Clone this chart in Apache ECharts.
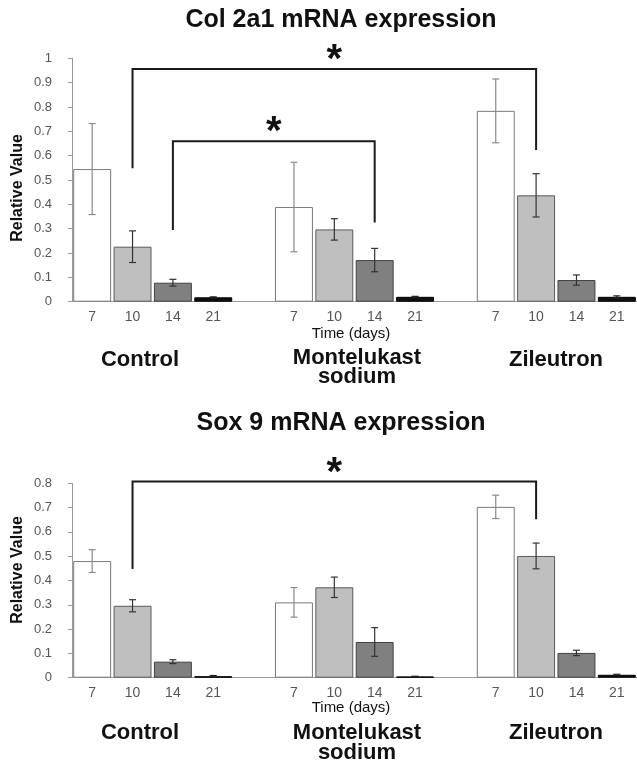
<!DOCTYPE html>
<html>
<head>
<meta charset="utf-8">
<script src="https://cdn.jsdelivr.net/npm/echarts@6/dist/echarts.min.js"></script>
<style>
html,body{margin:0;padding:0;background:#fff;}
#chart{width:637px;height:766px;}
</style>
</head>
<body>
<div id="chart"></div>
<script>
// ---- data ----
const categories = ['7','10','14','21','','7','10','14','21','','7','10','14','21'];
const days = ['7','10','14','21'];
const groupNames = ['Control', 'Montelukast\nsodium', 'Zileutron'];

// Col 2a1 mRNA expression (relative value, mean and error)
const colControl = [0.545, 0.226, 0.078, 0.018];
const colMontelukast = [0.389, 0.297, 0.171, 0.020];
const colZileutron = [0.784, 0.437, 0.089, 0.020];
const colControlErr = [0.187, 0.065, 0.014, 0.002];
const colMontelukastErr = [0.184, 0.044, 0.048, 0.002];
const colZileutronErr = [0.131, 0.089, 0.021, 0.004];

// Sox 9 mRNA expression
const soxControl = [0.480, 0.296, 0.066, 0.006];
const soxMontelukast = [0.310, 0.372, 0.147, 0.005];
const soxZileutron = [0.703, 0.501, 0.102, 0.012];
const soxControlErr = [0.047, 0.025, 0.008, 0.003];
const soxMontelukastErr = [0.061, 0.042, 0.059, 0.001];
const soxZileutronErr = [0.048, 0.053, 0.011, 0.002];

// significance brackets: [fromCategoryIndex, toCategoryIndex, height, leftEnd, rightEnd]
const colBrackets = [[1, 11, 0.956, 0.548, 0.623], [2, 7, 0.659, 0.295, 0.325]];
const soxBrackets = [[1, 11, 0.807, 0.447, 0.652]];

const colTicksMax = 1.0;
const soxTicksMax = 0.8;

// ---- styles ----
const dayFill = ['#ffffff', '#bfbfbf', '#808080', '#111111'];
const dayBorder = ['#7a7a7a', '#5a5a5a', '#404040', '#000000'];
const dayErr = ['#8a8a8a', '#333333', '#333333', '#222222'];
const FONT = 'Liberation Sans, Arial, sans-serif';

function buildBars(groupsVals) {
  const out = [];
  groupsVals.forEach((vals, g) => {
    vals.forEach((v, d) => {
      out.push({
        value: [g * 5 + d, v],
        itemStyle: { color: dayFill[d], borderColor: dayBorder[d], borderWidth: 1 }
      });
    });
  });
  return out;
}
function buildErr(groupsVals, groupsErr) {
  const out = [];
  groupsVals.forEach((vals, g) => {
    vals.forEach((v, d) => {
      out.push([g * 5 + d, v, groupsErr[g][d], d]);
    });
  });
  return out;
}

function errRender(params, api) {
  const x = api.value(0), v = api.value(1), e = api.value(2), d = api.value(3);
  const top = api.coord([x, v + e]);
  const bot = api.coord([x, v - e]);
  const c = dayErr[d];
  const hw = 3.5;
  const st = { stroke: c, lineWidth: 1.2 };
  return {
    type: 'group',
    children: [
      { type: 'line', shape: { x1: top[0], y1: top[1], x2: bot[0], y2: bot[1] }, style: st },
      { type: 'line', shape: { x1: top[0] - hw, y1: top[1], x2: top[0] + hw, y2: top[1] }, style: st },
      { type: 'line', shape: { x1: bot[0] - hw, y1: bot[1], x2: bot[0] + hw, y2: bot[1] }, style: st }
    ]
  };
}

function bracketRender(params, api) {
  const a = api.value(0), b = api.value(1), h = api.value(2), l = api.value(3), r = api.value(4);
  const p1 = api.coord([a, l]);
  const p2 = api.coord([a, h]);
  const p3 = api.coord([b, h]);
  const p4 = api.coord([b, r]);
  return {
    type: 'group',
    children: [
      { type: 'polyline', shape: { points: [p1, p2, p3, p4] },
        style: { stroke: '#1a1a1a', lineWidth: 2, fill: null } },
      { type: 'text', x: (p2[0] + p3[0]) / 2, y: p2[1] - 8,
        style: { text: '*', fontSize: 40, fontWeight: 'bold', fontFamily: FONT,
                 fill: '#111', align: 'center', verticalAlign: 'middle' } }
    ]
  };
}

const grids = [
  { left: 72, top: 58.3, right: -6, height: 243.4 },
  { left: 72, top: 483.3, right: -6, height: 194.4 }
];

function xAx(i) {
  return {
    type: 'category', gridIndex: i, data: categories,
    axisLine: { lineStyle: { color: '#9a9a9a', width: 1 } },
    axisTick: { show: false },
    axisLabel: { interval: 0, fontSize: 14, color: '#555', fontFamily: FONT, margin: 8 },
    splitLine: { show: false }
  };
}
function yAx(i, max) {
  return {
    type: 'value', gridIndex: i, min: 0, max: max, interval: 0.1,
    axisLine: { show: true, lineStyle: { color: '#9a9a9a', width: 1 } },
    axisTick: { show: true, length: 4, lineStyle: { color: '#9a9a9a' } },
    axisLabel: { fontSize: 13, color: '#555', fontFamily: FONT, margin: 20 },
    splitLine: { show: false }
  };
}

function txt(text, x, y, size, weight, extra) {
  return Object.assign({
    type: 'text', x: x, y: y,
    style: { text: text, fontSize: size, fontWeight: weight, fontFamily: FONT,
             fill: '#111', align: 'center', verticalAlign: 'middle' }
  }, extra || {});
}

const groupX = [140, 357, 556];

const option = {
  animation: false,
  backgroundColor: '#fff',
  grid: grids,
  xAxis: [xAx(0), xAx(1)],
  yAxis: [yAx(0, colTicksMax), yAx(1, soxTicksMax)],
  series: [
    { type: 'bar', xAxisIndex: 0, yAxisIndex: 0, barWidth: '94%',
      data: buildBars([colControl, colMontelukast, colZileutron]) },
    { type: 'custom', xAxisIndex: 0, yAxisIndex: 0, renderItem: errRender, z: 5,
      data: buildErr([colControl, colMontelukast, colZileutron],
                     [colControlErr, colMontelukastErr, colZileutronErr]) },
    { type: 'custom', xAxisIndex: 0, yAxisIndex: 0, renderItem: bracketRender, z: 6,
      data: colBrackets },
    { type: 'bar', xAxisIndex: 1, yAxisIndex: 1, barWidth: '94%',
      data: buildBars([soxControl, soxMontelukast, soxZileutron]) },
    { type: 'custom', xAxisIndex: 1, yAxisIndex: 1, renderItem: errRender, z: 5,
      data: buildErr([soxControl, soxMontelukast, soxZileutron],
                     [soxControlErr, soxMontelukastErr, soxZileutronErr]) },
    { type: 'custom', xAxisIndex: 1, yAxisIndex: 1, renderItem: bracketRender, z: 6,
      data: soxBrackets }
  ],
  graphic: [
    txt('Col 2a1 mRNA expression', 341, 20, 25, 'bold'),
    txt('Sox 9 mRNA expression', 341, 423, 25, 'bold'),
    txt('Relative Value', 18, 188, 16, 'bold', { rotation: Math.PI / 2 }),
    txt('Relative Value', 18, 570, 16, 'bold', { rotation: Math.PI / 2 }),
    txt('Time (days)', 351, 334, 15, 'normal'),
    txt('Time (days)', 351, 708, 15, 'normal'),
    txt(groupNames[0], groupX[0], 360, 22, 'bold'),
    txt(groupNames[1], groupX[1], 367.5, 22, 'bold', { style: { text: groupNames[1], fontSize: 22, fontWeight: 'bold', fontFamily: FONT, fill: '#111', align: 'center', verticalAlign: 'middle', lineHeight: 19 } }),
    txt(groupNames[2], groupX[2], 360, 22, 'bold'),
    txt(groupNames[0], groupX[0], 733, 22, 'bold'),
    txt(groupNames[1], groupX[1], 743, 22, 'bold', { style: { text: groupNames[1], fontSize: 22, fontWeight: 'bold', fontFamily: FONT, fill: '#111', align: 'center', verticalAlign: 'middle', lineHeight: 20 } }),
    txt(groupNames[2], groupX[2], 733, 22, 'bold')
  ]
};

const chart = echarts.init(document.getElementById('chart'), null, { renderer: 'canvas' });
chart.setOption(option);
</script>
</body>
</html>
